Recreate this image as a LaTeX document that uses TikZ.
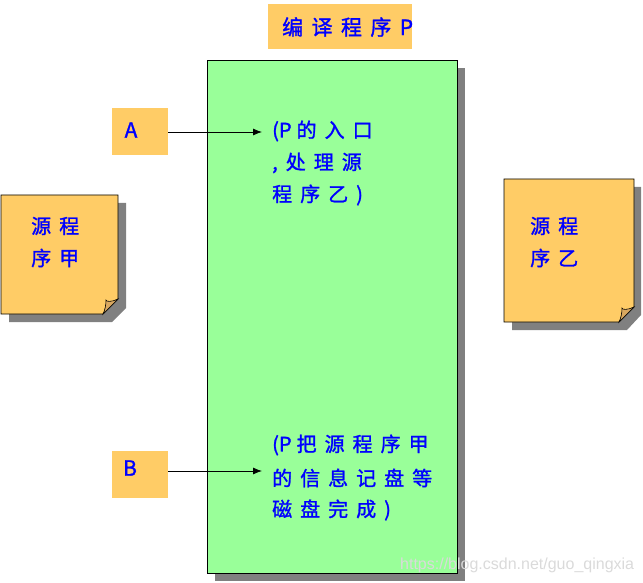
\documentclass[tikz,border=0pt]{standalone}
\usepackage{fontspec}
\newfontfamily\cjk[LetterSpace=40,FakeBold=1.3]{Noto Sans CJK SC}
\newfontfamily\cjktight[FakeBold=1.3]{Noto Sans CJK SC}
\newfontfamily\wmfont{Liberation Sans}
\newcommand{\tightpar}[1]{{\cjktight #1}\hspace{5pt}}
\usetikzlibrary{arrows.meta}
\definecolor{boxorange}{HTML}{FFCC66}
\definecolor{boxgreen}{HTML}{99FF99}
\definecolor{shadowgray}{HTML}{808080}
\definecolor{textblue}{HTML}{0000FF}
\definecolor{foldtan}{HTML}{D9A860}
\definecolor{wmgray}{HTML}{DADADA}
\tikzset{
  orangebox/.style={fill=boxorange, draw=none, inner sep=0, minimum width=56pt, minimum height=47pt},
  cjktext/.style={font=\cjk\fontsize{20}{24}\selectfont, text=textblue, inner sep=0, anchor=west},
  lettertext/.style={font=\cjk\fontsize{21}{24}\selectfont, text=textblue, inner sep=0},
  connector/.style={draw=black, line width=0.8pt, -{Latex[length=9pt,width=7pt]}},
  shadowfill/.style={fill=shadowgray, draw=none},
  noteedge/.style={draw=black, line width=0.8pt, fill=boxorange},
  foldedge/.style={draw=black, line width=0.6pt, fill=foldtan}
}
\begin{document}
\begin{tikzpicture}[x=1pt,y=-1pt]
\useasboundingbox (0,0) rectangle (643,583);

% title
\node[fill=boxorange, inner sep=0, minimum width=144pt, minimum height=45pt] (title) at (340,26.5) {};
\node[lettertext, anchor=west] (titletext) at (282,27) {编译程序P};

% main program box with shadow
\fill[shadowfill] (215,68) rectangle (465,581);
\node[draw=black, line width=0.8pt, fill=boxgreen, inner sep=0, minimum width=250pt, minimum height=513pt] (prog) at (332,316.5) {};

% A and B
\node[orangebox] (abox) at (140,131.5) {};
\node[lettertext, font=\fontsize{21}{24}\selectfont\cjktight] (atext) at (131,130) {A};
\node[orangebox] (bbox) at (140,474.5) {};
\node[lettertext, font=\fontsize{21}{24}\selectfont\cjktight] (btext) at (130,468) {B};

\coordinate (aend) at (262,132);
\coordinate (bend) at (262,471);
\draw[connector] (abox.east |- aend) -- (aend);
\draw[connector] (bbox.east |- bend) -- (bend);

% texts inside program box
\node[cjktext] (a1) at (272,131) {\tightpar{(P}的入口};
\node[cjktext] (a2) at (272,163) {,处理源};
\node[cjktext] (a3) at (272,195) {程序乙)};
\node[cjktext] (b1) at (272,445) {\tightpar{(P}把源程序甲};
\node[cjktext] (b2) at (272,478) {的信息记盘等};
\node[cjktext] (b3) at (272,510) {磁盘完成)};

% left note
\fill[shadowfill] (9,203) -- (126,203) -- (126,308) -- (112,322) -- (9,322) -- cycle;
\path[noteedge] (1,195) -- (118,195) -- (118,299) -- (103,314) -- (1,314) -- cycle;
\path[foldedge] (118,299) .. controls (112,302) and (106,302) .. (106,300) .. controls (106,305) and (105,310) .. (103,314) -- cycle;
\node[cjktext] (l1) at (31,226) {源程};
\node[cjktext] (l2) at (31,258) {序甲};

% right note
\fill[shadowfill] (512,187) -- (641,187) -- (641,315) -- (627,330) -- (512,330) -- cycle;
\path[noteedge] (504,179) -- (634,179) -- (634,307) -- (619,322) -- (504,322) -- cycle;
\path[foldedge] (634,307) .. controls (628,310) and (622,310) .. (622,308) .. controls (622,313) and (621,318) .. (619,322) -- cycle;
\node[cjktext] (r1) at (530,226) {源程};
\node[cjktext] (r2) at (530,258) {序乙};

% watermark
\node[font=\wmfont\fontsize{16}{18}\selectfont, text=wmgray, anchor=west, inner sep=0] (wm) at (400,565) {https://blog.csdn.net/guo\_qingxia};
\end{tikzpicture}
\end{document}
